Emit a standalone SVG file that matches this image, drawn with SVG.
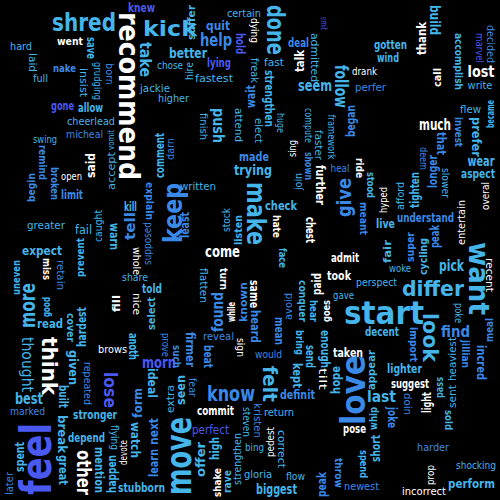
<svg xmlns="http://www.w3.org/2000/svg" width="500" height="500" viewBox="0 0 500 500">
<style>
text{font-family:"Comic Sans MS","DejaVu Sans",sans-serif;text-anchor:middle;dominant-baseline:central}
.B{font-weight:bold}
.w{fill:#ffffff}.c{fill:#45b5ea}.b{fill:#3b89e6}.i{fill:#4a5af0}
</style>
<rect width="500" height="500" fill="#000"/>
<g id="words-horizontal">
<text x="141.5" y="7.5" font-size="12" textLength="27" lengthAdjust="spacingAndGlyphs" class="B i">knew</text>
<text x="84" y="23" font-size="24" textLength="64" lengthAdjust="spacingAndGlyphs" class="B c">shred</text>
<text x="170" y="28" font-size="22" textLength="54" lengthAdjust="spacingAndGlyphs" class="B c">kick</text>
<text x="21" y="46.5" font-size="11" textLength="22" lengthAdjust="spacingAndGlyphs" class="c">hard</text>
<text x="70" y="41.5" font-size="11" textLength="26" lengthAdjust="spacingAndGlyphs" class="B w">went</text>
<text x="64.5" y="68.5" font-size="11" textLength="23" lengthAdjust="spacingAndGlyphs" class="B b">nake</text>
<text x="40.5" y="78" font-size="11" textLength="15" lengthAdjust="spacingAndGlyphs" class="c">full</text>
<text x="170" y="65" font-size="11" textLength="26" lengthAdjust="spacingAndGlyphs" class="c">chose</text>
<text x="155" y="88" font-size="11" textLength="30" lengthAdjust="spacingAndGlyphs" class="c">jackie</text>
<text x="173.5" y="98" font-size="11" textLength="31" lengthAdjust="spacingAndGlyphs" class="c">higher</text>
<text x="62.5" y="105.5" font-size="12" textLength="23" lengthAdjust="spacingAndGlyphs" class="B i">gone</text>
<text x="90.5" y="107.5" font-size="12" textLength="25" lengthAdjust="spacingAndGlyphs" class="B c">allow</text>
<text x="91" y="121" font-size="11" textLength="48" lengthAdjust="spacingAndGlyphs" class="c">cheerlead</text>
<text x="244" y="13.5" font-size="10" textLength="34" lengthAdjust="spacingAndGlyphs" class="c">certain</text>
<text x="218" y="25" font-size="13" textLength="24" lengthAdjust="spacingAndGlyphs" class="B b">quit</text>
<text x="216" y="40" font-size="17" textLength="32" lengthAdjust="spacingAndGlyphs" class="B b">help</text>
<text x="298.5" y="42.5" font-size="12" textLength="21" lengthAdjust="spacingAndGlyphs" class="B b">deal</text>
<text x="188" y="53" font-size="14" textLength="38" lengthAdjust="spacingAndGlyphs" class="B c">better</text>
<text x="219" y="63" font-size="12" textLength="24" lengthAdjust="spacingAndGlyphs" class="B i">lying</text>
<text x="214" y="78" font-size="11" textLength="38" lengthAdjust="spacingAndGlyphs" class="c">fastest</text>
<text x="274" y="62" font-size="10" textLength="20" lengthAdjust="spacingAndGlyphs" class="c">fast</text>
<text x="315" y="86" font-size="15" textLength="34" lengthAdjust="spacingAndGlyphs" class="B c">seem</text>
<text x="254" y="156" font-size="13" textLength="30" lengthAdjust="spacingAndGlyphs" class="B b">made</text>
<text x="253" y="170" font-size="14" textLength="38" lengthAdjust="spacingAndGlyphs" class="B c">trying</text>
<text x="198" y="186.5" font-size="10" textLength="36" lengthAdjust="spacingAndGlyphs" class="c">written</text>
<text x="281" y="205.5" font-size="13" textLength="32" lengthAdjust="spacingAndGlyphs" class="B c">check</text>
<text x="390.5" y="44.5" font-size="12" textLength="33" lengthAdjust="spacingAndGlyphs" class="B c">gotten</text>
<text x="388" y="57.5" font-size="12" textLength="22" lengthAdjust="spacingAndGlyphs" class="B c">wind</text>
<text x="364.5" y="71" font-size="10" textLength="25" lengthAdjust="spacingAndGlyphs" class="w">drank</text>
<text x="481" y="71.5" font-size="16" textLength="27" lengthAdjust="spacingAndGlyphs" class="B w">lost</text>
<text x="370.5" y="87.5" font-size="11" textLength="31" lengthAdjust="spacingAndGlyphs" class="b">perfer</text>
<text x="480" y="85.5" font-size="10" textLength="25" lengthAdjust="spacingAndGlyphs" class="c">write</text>
<text x="470.5" y="109" font-size="11" textLength="21" lengthAdjust="spacingAndGlyphs" class="c">flew</text>
<text x="435" y="124" font-size="16" textLength="32" lengthAdjust="spacingAndGlyphs" class="B w">much</text>
<text x="340" y="168.5" font-size="10" textLength="19" lengthAdjust="spacingAndGlyphs" class="b">heal</text>
<text x="481" y="161" font-size="14" textLength="27" lengthAdjust="spacingAndGlyphs" class="B c">wear</text>
<text x="478" y="173.5" font-size="13" textLength="34" lengthAdjust="spacingAndGlyphs" class="B c">aspect</text>
<text x="425.5" y="217" font-size="13" textLength="57" lengthAdjust="spacingAndGlyphs" class="B b">understand</text>
<text x="385.5" y="224" font-size="12" textLength="19" lengthAdjust="spacingAndGlyphs" class="B c">live</text>
<text x="345" y="257" font-size="13" textLength="28" lengthAdjust="spacingAndGlyphs" class="B w">admit</text>
<text x="339" y="275.5" font-size="13" textLength="24" lengthAdjust="spacingAndGlyphs" class="B w">took</text>
<text x="400" y="268.5" font-size="10" textLength="22" lengthAdjust="spacingAndGlyphs" class="c">woke</text>
<text x="451.5" y="266" font-size="15" textLength="25" lengthAdjust="spacingAndGlyphs" class="B c">pick</text>
<text x="376.5" y="282.5" font-size="11" textLength="41" lengthAdjust="spacingAndGlyphs" class="c">perspect</text>
<text x="433" y="288.5" font-size="22" textLength="62" lengthAdjust="spacingAndGlyphs" class="B c">differ</text>
<text x="343.5" y="295.5" font-size="10" textLength="21" lengthAdjust="spacingAndGlyphs" class="c">gave</text>
<text x="384" y="313" font-size="32" textLength="80" lengthAdjust="spacingAndGlyphs" class="B c">start</text>
<text x="382" y="331.5" font-size="12" textLength="34" lengthAdjust="spacingAndGlyphs" class="B c">decent</text>
<text x="455.5" y="331" font-size="16" textLength="29" lengthAdjust="spacingAndGlyphs" class="B b">find</text>
<text x="348" y="352.5" font-size="12" textLength="30" lengthAdjust="spacingAndGlyphs" class="B w">taken</text>
<text x="404.5" y="369" font-size="12" textLength="35" lengthAdjust="spacingAndGlyphs" class="B c">lighter</text>
<text x="410" y="383" font-size="13" textLength="38" lengthAdjust="spacingAndGlyphs" class="B w">suggest</text>
<text x="381.5" y="396" font-size="16" textLength="29" lengthAdjust="spacingAndGlyphs" class="B c">last</text>
<text x="354.5" y="429" font-size="12" textLength="23" lengthAdjust="spacingAndGlyphs" class="B w">pose</text>
<text x="433" y="447" font-size="11" textLength="32" lengthAdjust="spacingAndGlyphs" class="b">harder</text>
<text x="476" y="465" font-size="11" textLength="40" lengthAdjust="spacingAndGlyphs" class="c">shocking</text>
<text x="471.5" y="483.5" font-size="13" textLength="47" lengthAdjust="spacingAndGlyphs" class="B c">perform</text>
<text x="361.5" y="486" font-size="11" textLength="35" lengthAdjust="spacingAndGlyphs" class="b">newest</text>
<text x="424" y="491.5" font-size="11" textLength="44" lengthAdjust="spacingAndGlyphs" class="w">incorrect</text>
<text x="42" y="250.5" font-size="13" textLength="40" lengthAdjust="spacingAndGlyphs" class="B c">expect</text>
<text x="135" y="277" font-size="11" textLength="26" lengthAdjust="spacingAndGlyphs" class="c">share</text>
<text x="152" y="288" font-size="13" textLength="20" lengthAdjust="spacingAndGlyphs" class="B c">told</text>
<text x="50" y="324" font-size="12" textLength="26" lengthAdjust="spacingAndGlyphs" class="B c">read</text>
<text x="112.5" y="349" font-size="11" textLength="29" lengthAdjust="spacingAndGlyphs" class="w">brows</text>
<text x="159" y="362" font-size="16" textLength="34" lengthAdjust="spacingAndGlyphs" class="B i">morn</text>
<text x="29" y="398.5" font-size="15" textLength="28" lengthAdjust="spacingAndGlyphs" class="B c">best</text>
<text x="27.5" y="411.5" font-size="11" textLength="35" lengthAdjust="spacingAndGlyphs" class="b">marked</text>
<text x="95" y="415" font-size="12" textLength="44" lengthAdjust="spacingAndGlyphs" class="B c">stronger</text>
<text x="86.5" y="438" font-size="12" textLength="37" lengthAdjust="spacingAndGlyphs" class="B c">depend</text>
<text x="141.5" y="487.5" font-size="12" textLength="47" lengthAdjust="spacingAndGlyphs" class="B c">stubborn</text>
<text x="231" y="393.5" font-size="22" textLength="48" lengthAdjust="spacingAndGlyphs" class="B b">know</text>
<text x="297.5" y="395" font-size="12" textLength="35" lengthAdjust="spacingAndGlyphs" class="B b">definit</text>
<text x="215.5" y="411" font-size="12" textLength="37" lengthAdjust="spacingAndGlyphs" class="B w">commit</text>
<text x="279" y="412.5" font-size="11" textLength="30" lengthAdjust="spacingAndGlyphs" class="c">return</text>
<text x="210.5" y="429.5" font-size="12" textLength="37" lengthAdjust="spacingAndGlyphs" class="i">perfect</text>
<text x="254.5" y="447.5" font-size="11" textLength="19" lengthAdjust="spacingAndGlyphs" class="c">bing</text>
<text x="258" y="474" font-size="11" textLength="28" lengthAdjust="spacingAndGlyphs" class="c">gloria</text>
<text x="295.5" y="476.5" font-size="11" textLength="19" lengthAdjust="spacingAndGlyphs" class="c">flow</text>
<text x="276.5" y="489" font-size="14" textLength="41" lengthAdjust="spacingAndGlyphs" class="B c">biggest</text>
<text x="222.5" y="251.5" font-size="16" textLength="35" lengthAdjust="spacingAndGlyphs" class="B w">come</text>
<text x="218.5" y="336" font-size="11" textLength="31" lengthAdjust="spacingAndGlyphs" class="b">reveal</text>
<text x="268.5" y="354" font-size="11" textLength="27" lengthAdjust="spacingAndGlyphs" class="b">would</text>
<text x="45" y="139" font-size="10" textLength="24" lengthAdjust="spacingAndGlyphs" class="c">swing</text>
<text x="84.5" y="134" font-size="11" textLength="37" lengthAdjust="spacingAndGlyphs" class="b">micheal</text>
<text x="71.5" y="176" font-size="10" textLength="21" lengthAdjust="spacingAndGlyphs" class="w">open</text>
<text x="72" y="194.5" font-size="12" textLength="22" lengthAdjust="spacingAndGlyphs" class="B b">limit</text>
<text x="130.5" y="206" font-size="13" textLength="13" lengthAdjust="spacingAndGlyphs" class="B c">kill</text>
<text x="46" y="225.5" font-size="10" textLength="38" lengthAdjust="spacingAndGlyphs" class="c">greater</text>
<text x="83.5" y="230" font-size="12" textLength="17" lengthAdjust="spacingAndGlyphs" class="c">fail</text>
</g>
<g id="words-vertical">
<text transform="translate(128 96) rotate(90)" font-size="28" textLength="168" lengthAdjust="spacingAndGlyphs" class="B w">recommend</text>
<text transform="translate(91 48) rotate(90)" font-size="12" textLength="22" lengthAdjust="spacingAndGlyphs" class="B c">save</text>
<text transform="translate(32.5 62.5) rotate(90)" font-size="11" textLength="19" lengthAdjust="spacingAndGlyphs" class="c">laid</text>
<text transform="translate(83.5 82.5) rotate(90)" font-size="10" textLength="29" lengthAdjust="spacingAndGlyphs" class="c">insist</text>
<text transform="translate(97.5 81) rotate(90)" font-size="11" textLength="38" lengthAdjust="spacingAndGlyphs" class="c">grudging</text>
<text transform="translate(109 74) rotate(90)" font-size="10" textLength="22" lengthAdjust="spacingAndGlyphs" class="b">born</text>
<text transform="translate(144.5 59.5) rotate(90)" font-size="15" textLength="35" lengthAdjust="spacingAndGlyphs" class="B c">take</text>
<text transform="translate(191.5 22.5) rotate(-90)" font-size="11" textLength="35" lengthAdjust="spacingAndGlyphs" class="B c">suffer</text>
<text transform="translate(239.5 43.5) rotate(90)" font-size="12" textLength="21" lengthAdjust="spacingAndGlyphs" class="B i">hold</text>
<text transform="translate(254 30.5) rotate(90)" font-size="10" textLength="25" lengthAdjust="spacingAndGlyphs" class="w">dying</text>
<text transform="translate(275.5 30) rotate(90)" font-size="25" textLength="50" lengthAdjust="spacingAndGlyphs" class="B c">done</text>
<text transform="translate(299.5 61) rotate(-90)" font-size="12" textLength="22" lengthAdjust="spacingAndGlyphs" class="B w">talk</text>
<text transform="translate(314.5 57.5) rotate(90)" font-size="11" textLength="49" lengthAdjust="spacingAndGlyphs" class="c">admitted</text>
<text transform="translate(323.5 23.5) rotate(90)" font-size="9" textLength="13" lengthAdjust="spacingAndGlyphs" class="i">omit</text>
<text transform="translate(189.5 71) rotate(-90)" font-size="10" textLength="18" lengthAdjust="spacingAndGlyphs" class="c">hire</text>
<text transform="translate(254.5 70.5) rotate(90)" font-size="11" textLength="25" lengthAdjust="spacingAndGlyphs" class="c">freak</text>
<text transform="translate(269 98.5) rotate(90)" font-size="12" textLength="57" lengthAdjust="spacingAndGlyphs" class="B c">strengthen</text>
<text transform="translate(251 96.5) rotate(-90)" font-size="12" textLength="23" lengthAdjust="spacingAndGlyphs" class="B b">wait</text>
<text transform="translate(203.5 126.5) rotate(90)" font-size="10" textLength="27" lengthAdjust="spacingAndGlyphs" class="c">finish</text>
<text transform="translate(218.5 125.5) rotate(90)" font-size="16" textLength="35" lengthAdjust="spacingAndGlyphs" class="B c">push</text>
<text transform="translate(238 125) rotate(90)" font-size="10" textLength="34" lengthAdjust="spacingAndGlyphs" class="c">attend</text>
<text transform="translate(258.5 130.5) rotate(90)" font-size="10" textLength="25" lengthAdjust="spacingAndGlyphs" class="c">elect</text>
<text transform="translate(280.5 123) rotate(90)" font-size="10" textLength="20" lengthAdjust="spacingAndGlyphs" class="c">huge</text>
<text transform="translate(308.5 125.5) rotate(90)" font-size="10" textLength="35" lengthAdjust="spacingAndGlyphs" class="c">compute</text>
<text transform="translate(318.5 145) rotate(90)" font-size="10" textLength="30" lengthAdjust="spacingAndGlyphs" class="c">faster</text>
<text transform="translate(319.5 185) rotate(90)" font-size="12" textLength="40" lengthAdjust="spacingAndGlyphs" class="B w">further</text>
<text transform="translate(308 166) rotate(90)" font-size="11" textLength="28" lengthAdjust="spacingAndGlyphs" class="B b">shown</text>
<text transform="translate(298.5 181.5) rotate(-90)" font-size="10" textLength="17" lengthAdjust="spacingAndGlyphs" class="c">join</text>
<text transform="translate(292 148.5) rotate(-90)" font-size="10" textLength="17" lengthAdjust="spacingAndGlyphs" class="w">sing</text>
<text transform="translate(170.5 149) rotate(-90)" font-size="10" textLength="22" lengthAdjust="spacingAndGlyphs" class="b">darn</text>
<text transform="translate(172.5 213) rotate(-90)" font-size="26" textLength="60" lengthAdjust="spacingAndGlyphs" class="B b">keep</text>
<text transform="translate(256.5 213.5) rotate(90)" font-size="27" textLength="63" lengthAdjust="spacingAndGlyphs" class="B c">make</text>
<text transform="translate(184.5 225) rotate(-90)" font-size="12" textLength="26" lengthAdjust="spacingAndGlyphs" class="B b">least</text>
<text transform="translate(226 220) rotate(-90)" font-size="10" textLength="24" lengthAdjust="spacingAndGlyphs" class="c">stock</text>
<text transform="translate(238 230) rotate(-90)" font-size="11" textLength="30" lengthAdjust="spacingAndGlyphs" class="B c">listen</text>
<text transform="translate(276.5 226.5) rotate(90)" font-size="11" textLength="23" lengthAdjust="spacingAndGlyphs" class="B w">hate</text>
<text transform="translate(309.5 230) rotate(90)" font-size="12" textLength="26" lengthAdjust="spacingAndGlyphs" class="B w">chest</text>
<text transform="translate(434.5 20) rotate(90)" font-size="14" textLength="30" lengthAdjust="spacingAndGlyphs" class="B c">build</text>
<text transform="translate(421 38.5) rotate(-90)" font-size="13" textLength="33" lengthAdjust="spacingAndGlyphs" class="B w">thank</text>
<text transform="translate(458 61.5) rotate(90)" font-size="11" textLength="57" lengthAdjust="spacingAndGlyphs" class="B c">accomplish</text>
<text transform="translate(479.5 48) rotate(90)" font-size="10" textLength="30" lengthAdjust="spacingAndGlyphs" class="i">marvel</text>
<text transform="translate(490 44) rotate(90)" font-size="11" textLength="38" lengthAdjust="spacingAndGlyphs" class="b">decided</text>
<text transform="translate(341.5 86.5) rotate(90)" font-size="18" textLength="43" lengthAdjust="spacingAndGlyphs" class="B c">follow</text>
<text transform="translate(437.5 77.5) rotate(-90)" font-size="11" textLength="19" lengthAdjust="spacingAndGlyphs" class="B w">call</text>
<text transform="translate(351 121) rotate(-90)" font-size="12" textLength="32" lengthAdjust="spacingAndGlyphs" class="B b">began</text>
<text transform="translate(458 132) rotate(90)" font-size="11" textLength="30" lengthAdjust="spacingAndGlyphs" class="B b">invest</text>
<text transform="translate(475.5 137) rotate(90)" font-size="12" textLength="40" lengthAdjust="spacingAndGlyphs" class="B c">prefer</text>
<text transform="translate(359 168) rotate(90)" font-size="11" textLength="20" lengthAdjust="spacingAndGlyphs" class="B w">ride</text>
<text transform="translate(344 197.5) rotate(-90)" font-size="19" textLength="39" lengthAdjust="spacingAndGlyphs" class="B b">give</text>
<text transform="translate(370 185) rotate(90)" font-size="11" textLength="26" lengthAdjust="spacingAndGlyphs" class="B c">stood</text>
<text transform="translate(363 218.5) rotate(90)" font-size="11" textLength="33" lengthAdjust="spacingAndGlyphs" class="B b">meant</text>
<text transform="translate(383 200) rotate(-90)" font-size="10" textLength="26" lengthAdjust="spacingAndGlyphs" class="w">hyped</text>
<text transform="translate(400 196) rotate(-90)" font-size="10" textLength="28" lengthAdjust="spacingAndGlyphs" class="c">afford</text>
<text transform="translate(414.5 190) rotate(-90)" font-size="12" textLength="36" lengthAdjust="spacingAndGlyphs" class="B c">tighten</text>
<text transform="translate(423.5 158.5) rotate(90)" font-size="10" textLength="23" lengthAdjust="spacingAndGlyphs" class="b">deem</text>
<text transform="translate(433 171.5) rotate(-90)" font-size="12" textLength="33" lengthAdjust="spacingAndGlyphs" class="B b">longer</text>
<text transform="translate(441 143.5) rotate(90)" font-size="12" textLength="23" lengthAdjust="spacingAndGlyphs" class="B b">that</text>
<text transform="translate(445 183) rotate(90)" font-size="10" textLength="30" lengthAdjust="spacingAndGlyphs" class="c">slower</text>
<text transform="translate(485 196) rotate(-90)" font-size="10" textLength="28" lengthAdjust="spacingAndGlyphs" class="w">overal</text>
<text transform="translate(461.5 222.5) rotate(-90)" font-size="10" textLength="45" lengthAdjust="spacingAndGlyphs" class="w">entertain</text>
<text transform="translate(410 247) rotate(-90)" font-size="11" textLength="30" lengthAdjust="spacingAndGlyphs" class="B b">super</text>
<text transform="translate(423 256.5) rotate(-90)" font-size="11" textLength="37" lengthAdjust="spacingAndGlyphs" class="B c">cycling</text>
<text transform="translate(434.5 236.5) rotate(-90)" font-size="12" textLength="23" lengthAdjust="spacingAndGlyphs" class="B b">peak</text>
<text transform="translate(387 251.5) rotate(-90)" font-size="10" textLength="23" lengthAdjust="spacingAndGlyphs" class="B c">fair</text>
<text transform="translate(478.5 278.5) rotate(90)" font-size="29" textLength="73" lengthAdjust="spacingAndGlyphs" class="B c">want</text>
<text transform="translate(489.5 275) rotate(90)" font-size="10" textLength="34" lengthAdjust="spacingAndGlyphs" class="w">recent</text>
<text transform="translate(458 313) rotate(90)" font-size="10" textLength="20" lengthAdjust="spacingAndGlyphs" class="c">poke</text>
<text transform="translate(429.5 337.5) rotate(90)" font-size="21" textLength="49" lengthAdjust="spacingAndGlyphs" class="B c">look</text>
<text transform="translate(413 344.5) rotate(90)" font-size="11" textLength="35" lengthAdjust="spacingAndGlyphs" class="B b">import</text>
<text transform="translate(489.5 330) rotate(-90)" font-size="11" textLength="24" lengthAdjust="spacingAndGlyphs" class="B b">meal</text>
<text transform="translate(452.5 359) rotate(-90)" font-size="10" textLength="44" lengthAdjust="spacingAndGlyphs" class="c">heaviest</text>
<text transform="translate(452.5 396.5) rotate(-90)" font-size="10" textLength="23" lengthAdjust="spacingAndGlyphs" class="c">sent</text>
<text transform="translate(465 354) rotate(90)" font-size="11" textLength="28" lengthAdjust="spacingAndGlyphs" class="B b">jillian</text>
<text transform="translate(481 362.5) rotate(90)" font-size="12" textLength="35" lengthAdjust="spacingAndGlyphs" class="B b">incred</text>
<text transform="translate(371.5 370) rotate(-90)" font-size="11" textLength="40" lengthAdjust="spacingAndGlyphs" class="B c">appear</text>
<text transform="translate(353 390) rotate(-90)" font-size="34" textLength="70" lengthAdjust="spacingAndGlyphs" class="B b">love</text>
<text transform="translate(335 380) rotate(-90)" font-size="13" textLength="28" lengthAdjust="spacingAndGlyphs" class="B c">hope</text>
<text transform="translate(439 387.5) rotate(-90)" font-size="10" textLength="21" lengthAdjust="spacingAndGlyphs" class="B c">pass</text>
<text transform="translate(407.5 404) rotate(90)" font-size="10" textLength="22" lengthAdjust="spacingAndGlyphs" class="b">doin</text>
<text transform="translate(427 402.5) rotate(-90)" font-size="12" textLength="21" lengthAdjust="spacingAndGlyphs" class="B w">light</text>
<text transform="translate(373 418.5) rotate(-90)" font-size="11" textLength="23" lengthAdjust="spacingAndGlyphs" class="B c">whip</text>
<text transform="translate(392 417.5) rotate(90)" font-size="12" textLength="21" lengthAdjust="spacingAndGlyphs" class="B b">joke</text>
<text transform="translate(448 420) rotate(90)" font-size="11" textLength="20" lengthAdjust="spacingAndGlyphs" class="B c">sold</text>
<text transform="translate(375.5 448.5) rotate(-90)" font-size="12" textLength="27" lengthAdjust="spacingAndGlyphs" class="B c">short</text>
<text transform="translate(363 464) rotate(90)" font-size="11" textLength="28" lengthAdjust="spacingAndGlyphs" class="B c">spend</text>
<text transform="translate(338 473) rotate(90)" font-size="11" textLength="30" lengthAdjust="spacingAndGlyphs" class="B b">throw</text>
<text transform="translate(430 475) rotate(-90)" font-size="10" textLength="20" lengthAdjust="spacingAndGlyphs" class="w">prop</text>
<text transform="translate(16 277.5) rotate(-90)" font-size="11" textLength="35" lengthAdjust="spacingAndGlyphs" class="B c">uneven</text>
<text transform="translate(46.5 269) rotate(90)" font-size="11" textLength="22" lengthAdjust="spacingAndGlyphs" class="B w">miss</text>
<text transform="translate(60 275) rotate(90)" font-size="10" textLength="30" lengthAdjust="spacingAndGlyphs" class="b">retain</text>
<text transform="translate(80 257.5) rotate(-90)" font-size="11" textLength="39" lengthAdjust="spacingAndGlyphs" class="B c">prevent</text>
<text transform="translate(136.5 261) rotate(90)" font-size="10" textLength="28" lengthAdjust="spacingAndGlyphs" class="w">whole</text>
<text transform="translate(147.5 243.5) rotate(-90)" font-size="10" textLength="43" lengthAdjust="spacingAndGlyphs" class="b">supposed</text>
<text transform="translate(27.5 305.5) rotate(-90)" font-size="21" textLength="45" lengthAdjust="spacingAndGlyphs" class="B c">more</text>
<text transform="translate(46 307) rotate(-90)" font-size="11" textLength="20" lengthAdjust="spacingAndGlyphs" class="B c">good</text>
<text transform="translate(116 303.5) rotate(-90)" font-size="11" textLength="17" lengthAdjust="spacingAndGlyphs" class="B w">fill</text>
<text transform="translate(136 304) rotate(90)" font-size="10" textLength="22" lengthAdjust="spacingAndGlyphs" class="w">nice</text>
<text transform="translate(151 313.5) rotate(-90)" font-size="11" textLength="33" lengthAdjust="spacingAndGlyphs" class="B c">select</text>
<text transform="translate(70.5 327.5) rotate(90)" font-size="11" textLength="29" lengthAdjust="spacingAndGlyphs" class="B c">cover</text>
<text transform="translate(82 327) rotate(-90)" font-size="12" textLength="40" lengthAdjust="spacingAndGlyphs" class="B c">hardest</text>
<text transform="translate(27 364.5) rotate(90)" font-size="15" textLength="55" lengthAdjust="spacingAndGlyphs" class="c">thought</text>
<text transform="translate(49.5 366) rotate(90)" font-size="22" textLength="58" lengthAdjust="spacingAndGlyphs" class="B w">think</text>
<text transform="translate(133 346.5) rotate(90)" font-size="12" textLength="27" lengthAdjust="spacingAndGlyphs" class="B c">anoth</text>
<text transform="translate(165 345) rotate(90)" font-size="10" textLength="24" lengthAdjust="spacingAndGlyphs" class="b">prove</text>
<text transform="translate(72.5 367.5) rotate(90)" font-size="12" textLength="35" lengthAdjust="spacingAndGlyphs" class="B c">given</text>
<text transform="translate(87 383.5) rotate(90)" font-size="10" textLength="43" lengthAdjust="spacingAndGlyphs" class="b">repeated</text>
<text transform="translate(109.5 390) rotate(90)" font-size="17" textLength="36" lengthAdjust="spacingAndGlyphs" class="B i">lose</text>
<text transform="translate(152 383) rotate(90)" font-size="12" textLength="30" lengthAdjust="spacingAndGlyphs" class="B c">ideal</text>
<text transform="translate(62.5 396.5) rotate(90)" font-size="12" textLength="23" lengthAdjust="spacingAndGlyphs" class="B c">built</text>
<text transform="translate(137.5 403) rotate(-90)" font-size="13" textLength="30" lengthAdjust="spacingAndGlyphs" class="B b">form</text>
<text transform="translate(36.5 459) rotate(-90)" font-size="42" textLength="72" lengthAdjust="spacingAndGlyphs" class="B i">feel</text>
<text transform="translate(62 434) rotate(90)" font-size="12" textLength="38" lengthAdjust="spacingAndGlyphs" class="B c">break</text>
<text transform="translate(62.5 470) rotate(90)" font-size="12" textLength="30" lengthAdjust="spacingAndGlyphs" class="B c">great</text>
<text transform="translate(114 437.5) rotate(90)" font-size="10" textLength="25" lengthAdjust="spacingAndGlyphs" class="c">flying</text>
<text transform="translate(123.5 452.5) rotate(-90)" font-size="10" textLength="25" lengthAdjust="spacingAndGlyphs" class="w">devote</text>
<text transform="translate(135 440) rotate(90)" font-size="13" textLength="36" lengthAdjust="spacingAndGlyphs" class="B c">watch</text>
<text transform="translate(153.5 431.5) rotate(-90)" font-size="12" textLength="27" lengthAdjust="spacingAndGlyphs" class="B b">next</text>
<text transform="translate(153.5 463) rotate(-90)" font-size="12" textLength="28" lengthAdjust="spacingAndGlyphs" class="B b">learn</text>
<text transform="translate(83.5 472.5) rotate(90)" font-size="20" textLength="45" lengthAdjust="spacingAndGlyphs" class="B w">other</text>
<text transform="translate(99 470) rotate(90)" font-size="12" textLength="46" lengthAdjust="spacingAndGlyphs" class="B c">mention</text>
<text transform="translate(112 474) rotate(-90)" font-size="12" textLength="38" lengthAdjust="spacingAndGlyphs" class="B c">happen</text>
<text transform="translate(19.5 457) rotate(-90)" font-size="12" textLength="30" lengthAdjust="spacingAndGlyphs" class="B c">spent</text>
<text transform="translate(9.5 483.5) rotate(-90)" font-size="10" textLength="23" lengthAdjust="spacingAndGlyphs" class="b">later</text>
<text transform="translate(170.5 399) rotate(-90)" font-size="10" textLength="28" lengthAdjust="spacingAndGlyphs" class="c">extra</text>
<text transform="translate(181 390) rotate(-90)" font-size="12" textLength="30" lengthAdjust="spacingAndGlyphs" class="B c">seen</text>
<text transform="translate(192 387.5) rotate(90)" font-size="10" textLength="19" lengthAdjust="spacingAndGlyphs" class="b">fear</text>
<text transform="translate(269.5 384) rotate(90)" font-size="20" textLength="36" lengthAdjust="spacingAndGlyphs" class="B c">felt</text>
<text transform="translate(297 375.5) rotate(90)" font-size="12" textLength="25" lengthAdjust="spacingAndGlyphs" class="B c">kept</text>
<text transform="translate(322 379) rotate(90)" font-size="10" textLength="22" lengthAdjust="spacingAndGlyphs" class="w">tilt</text>
<text transform="translate(246 422) rotate(90)" font-size="10" textLength="30" lengthAdjust="spacingAndGlyphs" class="c">steven</text>
<text transform="translate(257.5 420.5) rotate(90)" font-size="10" textLength="35" lengthAdjust="spacingAndGlyphs" class="b">kristen</text>
<text transform="translate(178.5 456) rotate(-90)" font-size="36" textLength="78" lengthAdjust="spacingAndGlyphs" class="B c">move</text>
<text transform="translate(214.5 448.5) rotate(-90)" font-size="12" textLength="23" lengthAdjust="spacingAndGlyphs" class="B c">high</text>
<text transform="translate(237 459) rotate(-90)" font-size="10" textLength="52" lengthAdjust="spacingAndGlyphs" class="c">strengthen</text>
<text transform="translate(270 442) rotate(-90)" font-size="11" textLength="30" lengthAdjust="spacingAndGlyphs" class="w">pedest</text>
<text transform="translate(281 449) rotate(90)" font-size="10" textLength="38" lengthAdjust="spacingAndGlyphs" class="c">correct</text>
<text transform="translate(200.5 459.5) rotate(-90)" font-size="12" textLength="35" lengthAdjust="spacingAndGlyphs" class="B c">offer</text>
<text transform="translate(217 482.5) rotate(-90)" font-size="11" textLength="29" lengthAdjust="spacingAndGlyphs" class="B w">shake</text>
<text transform="translate(227.5 481.5) rotate(-90)" font-size="11" textLength="23" lengthAdjust="spacingAndGlyphs" class="B c">rave</text>
<text transform="translate(322 484.5) rotate(-90)" font-size="12" textLength="25" lengthAdjust="spacingAndGlyphs" class="B b">peak</text>
<text transform="translate(282 258) rotate(90)" font-size="10" textLength="20" lengthAdjust="spacingAndGlyphs" class="B c">face</text>
<text transform="translate(203.5 285.5) rotate(90)" font-size="10" textLength="35" lengthAdjust="spacingAndGlyphs" class="c">flatten</text>
<text transform="translate(223 279) rotate(90)" font-size="11" textLength="22" lengthAdjust="spacingAndGlyphs" class="B w">turn</text>
<text transform="translate(217 312) rotate(-90)" font-size="16" textLength="40" lengthAdjust="spacingAndGlyphs" class="B b">found</text>
<text transform="translate(231 312) rotate(-90)" font-size="10" textLength="20" lengthAdjust="spacingAndGlyphs" class="B w">while</text>
<text transform="translate(243 302) rotate(-90)" font-size="11" textLength="40" lengthAdjust="spacingAndGlyphs" class="B b">known</text>
<text transform="translate(254 294) rotate(90)" font-size="12" textLength="28" lengthAdjust="spacingAndGlyphs" class="B w">same</text>
<text transform="translate(254.5 326.5) rotate(90)" font-size="12" textLength="33" lengthAdjust="spacingAndGlyphs" class="B b">heard</text>
<text transform="translate(302 301) rotate(90)" font-size="11" textLength="42" lengthAdjust="spacingAndGlyphs" class="B c">conquer</text>
<text transform="translate(317 284) rotate(-90)" font-size="12" textLength="22" lengthAdjust="spacingAndGlyphs" class="B w">paid</text>
<text transform="translate(288 306.5) rotate(-90)" font-size="10" textLength="27" lengthAdjust="spacingAndGlyphs" class="b">avoid</text>
<text transform="translate(313 311) rotate(90)" font-size="11" textLength="22" lengthAdjust="spacingAndGlyphs" class="B c">hear</text>
<text transform="translate(326 311) rotate(-90)" font-size="11" textLength="22" lengthAdjust="spacingAndGlyphs" class="B w">goes</text>
<text transform="translate(278.5 331) rotate(90)" font-size="12" textLength="28" lengthAdjust="spacingAndGlyphs" class="B b">mean</text>
<text transform="translate(299.5 342.5) rotate(90)" font-size="11" textLength="25" lengthAdjust="spacingAndGlyphs" class="B c">bring</text>
<text transform="translate(325 349) rotate(90)" font-size="12" textLength="38" lengthAdjust="spacingAndGlyphs" class="B c">enough</text>
<text transform="translate(240.5 347.5) rotate(90)" font-size="10" textLength="19" lengthAdjust="spacingAndGlyphs" class="w">sign</text>
<text transform="translate(189.5 349.5) rotate(90)" font-size="12" textLength="35" lengthAdjust="spacingAndGlyphs" class="B b">firmer</text>
<text transform="translate(176 356.5) rotate(90)" font-size="11" textLength="23" lengthAdjust="spacingAndGlyphs" class="B b">such</text>
<text transform="translate(207.5 356.5) rotate(90)" font-size="12" textLength="23" lengthAdjust="spacingAndGlyphs" class="B b">beat</text>
<text transform="translate(309.5 356.5) rotate(90)" font-size="12" textLength="23" lengthAdjust="spacingAndGlyphs" class="B c">send</text>
<text transform="translate(42.5 162.5) rotate(90)" font-size="11" textLength="35" lengthAdjust="spacingAndGlyphs" class="B b">remind</text>
<text transform="translate(31 187.5) rotate(-90)" font-size="11" textLength="29" lengthAdjust="spacingAndGlyphs" class="B b">begin</text>
<text transform="translate(54 183.5) rotate(90)" font-size="11" textLength="33" lengthAdjust="spacingAndGlyphs" class="B b">broken</text>
<text transform="translate(90 165.5) rotate(-90)" font-size="13" textLength="25" lengthAdjust="spacingAndGlyphs" class="B w">said</text>
<text transform="translate(110.5 140) rotate(-90)" font-size="9" textLength="20" lengthAdjust="spacingAndGlyphs" class="c">vomit</text>
<text transform="translate(111 171) rotate(-90)" font-size="10" textLength="38" lengthAdjust="spacingAndGlyphs" class="c">accept</text>
<text transform="translate(160 155.5) rotate(-90)" font-size="12" textLength="45" lengthAdjust="spacingAndGlyphs" class="B c">comment</text>
<text transform="translate(149 201) rotate(90)" font-size="11" textLength="38" lengthAdjust="spacingAndGlyphs" class="B b">explain</text>
<text transform="translate(130 226) rotate(-90)" font-size="14" textLength="28" lengthAdjust="spacingAndGlyphs" class="B b">tell</text>
<text transform="translate(98.5 226) rotate(-90)" font-size="10" textLength="32" lengthAdjust="spacingAndGlyphs" class="c">caught</text>
<text transform="translate(114 236.5) rotate(90)" font-size="12" textLength="27" lengthAdjust="spacingAndGlyphs" class="B c">warn</text>
<text transform="translate(490 114) rotate(-90)" font-size="11" textLength="28" lengthAdjust="spacingAndGlyphs" class="B c">became</text>
<text transform="translate(331 137) rotate(90)" font-size="10" textLength="45" lengthAdjust="spacingAndGlyphs" class="c">framework</text>
</g>
</svg>
